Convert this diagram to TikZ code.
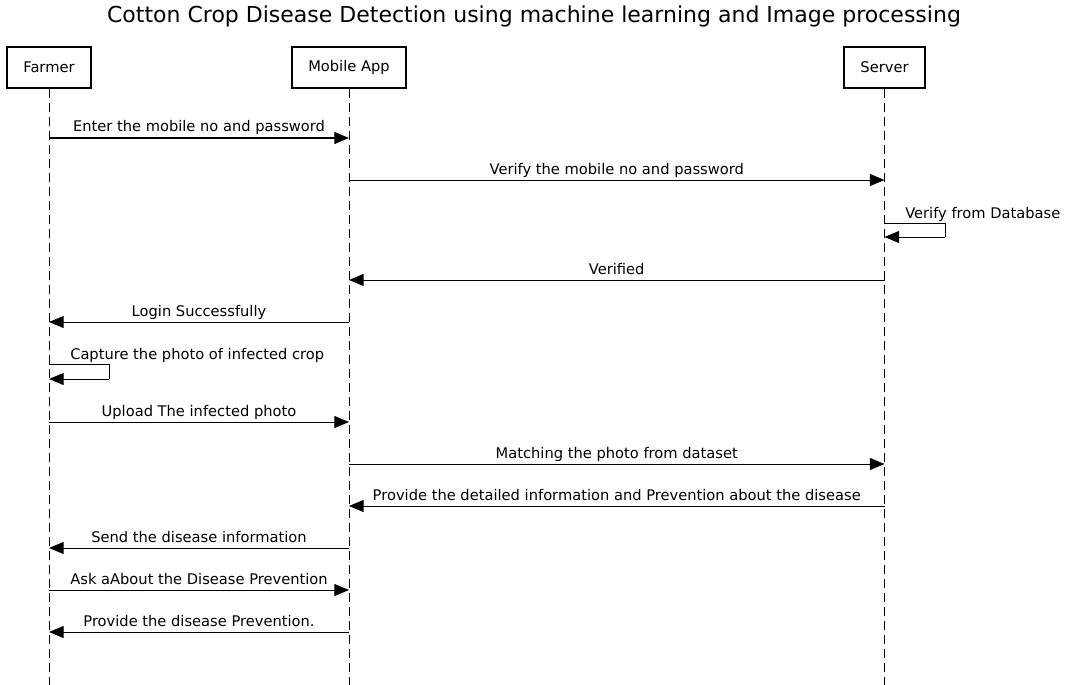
\documentclass[tikz,border=0pt]{standalone}
\usepackage{fontspec}
\setmainfont{DejaVu Sans}
\usetikzlibrary{arrows.meta}
\begin{document}
\begin{tikzpicture}[x=0.75pt,y=-0.75pt,
  actor/.style={draw,line width=1.5pt,minimum height=30.75pt,inner xsep=12pt,font=\fontsize{11}{13}\selectfont},
  life/.style={line width=0.75pt,dash pattern=on 7pt off 3.5pt},
  msg/.style={line width=0.75pt,-{Triangle[length=11pt,width=9pt]}},
  lbl/.style={midway,anchor=base,yshift=4.5pt,inner sep=0pt,font=\fontsize{11}{13}\selectfont},
  slbl/.style={anchor=base west,inner sep=0pt,font=\fontsize{11}{13}\selectfont}]
\useasboundingbox (0,0) rectangle (1068,685);
\node[font=\fontsize{16.5}{19}\selectfont] (title) at (534,16.5) {Cotton Crop Disease Detection using machine learning and Image processing};
\node[actor] (farmer) at (49,67.5) {Farmer};
\node[actor] (app) at (349,67.5) {Mobile App};
\node[actor] (server) at (884.5,67.5) {Server};
\coordinate (fe) at (49,685);
\coordinate (ae) at (349,685);
\coordinate (se) at (884.5,685);
\draw[life] (farmer.south) -- (fe);
\draw[life] (app.south) -- (ae);
\draw[life] (server.south) -- (se);
% messages
\draw[msg] (farmer.south |- 0,138) -- node[lbl]{Enter the mobile no and password} (app.south |- 0,138);
\draw[msg] (app.south |- 0,180) -- node[lbl]{Verify the mobile no and password} (server.south |- 0,180);
\coordinate (s1) at (945,223);
\coordinate (s2) at (945,237);
\draw[line width=0.75pt] (server.south |- 0,223) -- (s1) -- (s2);
\draw[msg] (s2) -- (server.south |- 0,237);
\node[slbl] (vdb) at (905,218) {Verify from Database};
\draw[msg] (server.south |- 0,280) -- node[lbl]{Verified} (app.south |- 0,280);
\draw[msg] (app.south |- 0,322) -- node[lbl]{Login Successfully} (farmer.south |- 0,322);
\coordinate (f1) at (109,364);
\coordinate (f2) at (109,379);
\draw[line width=0.75pt] (farmer.south |- 0,364) -- (f1) -- (f2);
\draw[msg] (f2) -- (farmer.south |- 0,379);
\node[slbl] (cap) at (70,359) {Capture the photo of infected crop};
\draw[msg] (farmer.south |- 0,422) -- node[lbl]{Upload The infected photo} (app.south |- 0,422);
\draw[msg] (app.south |- 0,464) -- node[lbl]{Matching the photo from dataset} (server.south |- 0,464);
\draw[msg] (server.south |- 0,506) -- node[lbl]{Provide the detailed information and Prevention about the disease} (app.south |- 0,506);
\draw[msg] (app.south |- 0,548) -- node[lbl]{Send the disease information} (farmer.south |- 0,548);
\draw[msg] (farmer.south |- 0,590) -- node[lbl]{Ask aAbout the Disease Prevention} (app.south |- 0,590);
\draw[msg] (app.south |- 0,632) -- node[lbl]{Provide the disease Prevention.} (farmer.south |- 0,632);
\end{tikzpicture}
\end{document}
